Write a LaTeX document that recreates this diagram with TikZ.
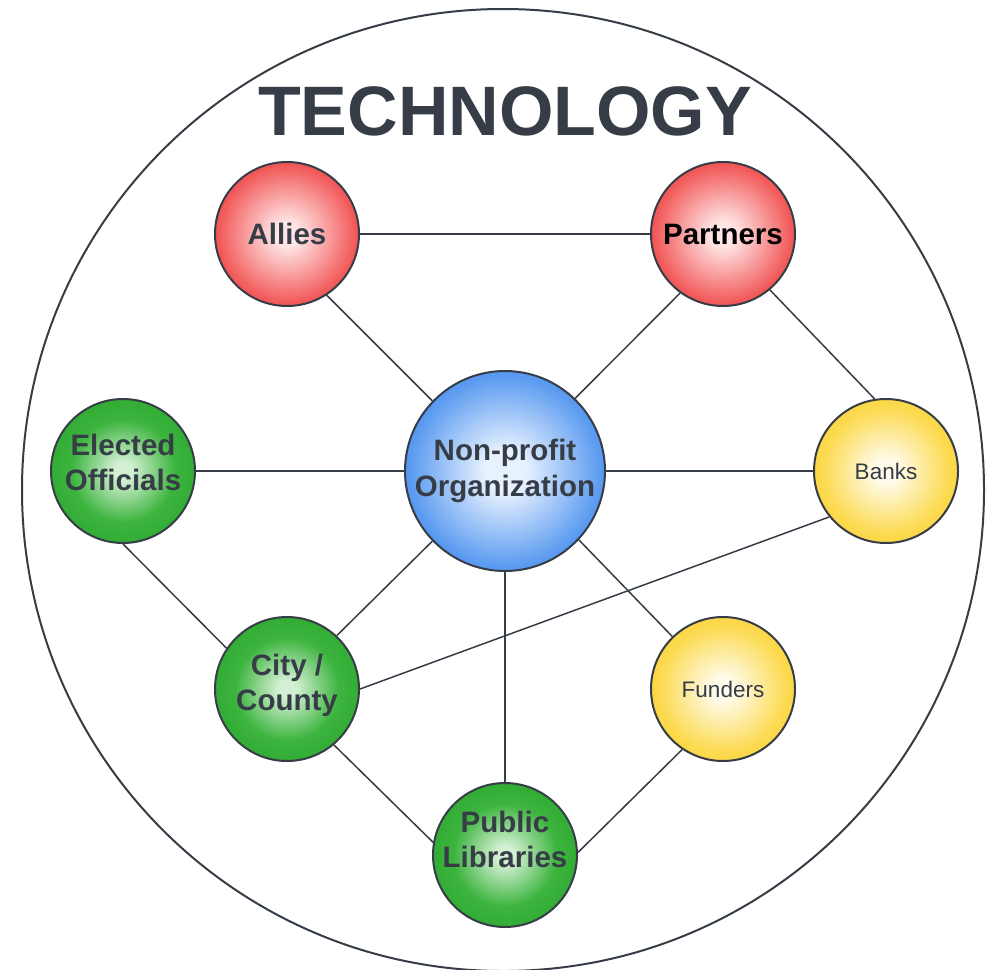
\documentclass[tikz,border=0pt]{standalone}
\usepackage{fontspec}
\setmainfont{Liberation Sans}
\definecolor{ink}{HTML}{363D46}
\definecolor{redin}{HTML}{FFE6E6}
\definecolor{redmid}{HTML}{F25858}
\definecolor{redout}{HTML}{E6282E}
\definecolor{greenin}{HTML}{D4F0D4}
\definecolor{greenmid}{HTML}{3CB43E}
\definecolor{greenout}{HTML}{1A981F}
\definecolor{bluein}{HTML}{E8F2FF}
\definecolor{bluemid}{HTML}{5A9AF0}
\definecolor{blueout}{HTML}{1A6ADB}
\definecolor{yellowin}{HTML}{FFFBEA}
\definecolor{yellowmid}{HTML}{FCDA50}
\definecolor{yellowout}{HTML}{F6C50E}
\pgfdeclareradialshading{redball}{\pgfpoint{0bp}{0bp}}{color(0bp)=(redin); color(4bp)=(redin); color(24bp)=(redmid); color(48bp)=(redout); color(50bp)=(redout)}
\pgfdeclareradialshading{greenball}{\pgfpoint{0bp}{0bp}}{color(0bp)=(greenin); color(3bp)=(greenin); color(18bp)=(greenmid); color(44bp)=(greenout); color(50bp)=(greenout)}
\pgfdeclareradialshading{blueball}{\pgfpoint{0bp}{0bp}}{color(0bp)=(bluein); color(5bp)=(bluein); color(24bp)=(bluemid); color(46bp)=(blueout); color(50bp)=(blueout)}
\pgfdeclareradialshading{yellowball}{\pgfpoint{0bp}{0bp}}{color(0bp)=(yellowin); color(4bp)=(yellowin); color(22bp)=(yellowmid); color(44bp)=(yellowout); color(50bp)=(yellowout)}
\newcommand\liftedlines[2]{\raisebox{#1}[\height][\depth]{\begin{tabular}{@{}c@{}}#2\end{tabular}}}
\tikzset{
  ball/.style={circle, draw=ink, line width=2pt, minimum size=144pt, inner sep=0pt,
    text=ink, align=center, font=\fontsize{29.5}{35.5}\selectfont\bfseries},
  bigball/.style={ball, minimum size=200pt},
  smalltext/.style={font=\fontsize{22.5}{27}\selectfont},
  link/.style={draw=ink, line width=1.5pt},
}
\begin{document}
\begin{tikzpicture}[x=1pt,y=-1pt]
\useasboundingbox (0,0) rectangle (998,969);
\draw[ink, line width=2pt] (503,490) circle (481);
\node[anchor=base, text=ink, font=\fontsize{70}{80}\selectfont\bfseries] (title) at (505,135) {TECHNOLOGY};

\node[ball, shading=redball] (allies) at (287,234) {Allies};
\node[ball, shading=redball, text=black] (partners) at (723,234) {Partners};
\node[bigball, shading=blueball] (np) at (505,471) {Non-profit\\Organization};
\node[ball, shading=greenball] (elected) at (123,471) {\liftedlines{5pt}{Elected\\Officials}};
\node[ball, shading=yellowball, smalltext] (banks) at (886,471) {Banks};
\node[ball, shading=greenball] (city) at (287,689) {\liftedlines{3pt}{City /\\County}};
\node[ball, shading=yellowball, smalltext] (funders) at (723,689) {Funders};
\node[ball, shading=greenball] (public) at (505,855) {\liftedlines{12pt}{Public\\Libraries}};

\draw[link] (allies.east) -- (partners.west);
\draw[link] (allies.-57) -- (np.136);
\draw[link] (partners.234) -- (np.46);
\draw[link] (partners.-50) -- (banks.99);
\draw[link] (elected.east) -- (np.west);
\draw[link] (np.east) -- (banks.west);
\draw[link] (elected.south) -- (city.146);
\draw[link] (np.224) -- (city.47);
\draw[link] (banks.219) -- (city.east);
\draw[link] (np.-43) -- (funders.134);
\draw[link] (np.south) -- (public.north);
\draw[link] (city.-50) -- (public.170);
\draw[link] (funders.236) -- (public.2);
\end{tikzpicture}
\end{document}
